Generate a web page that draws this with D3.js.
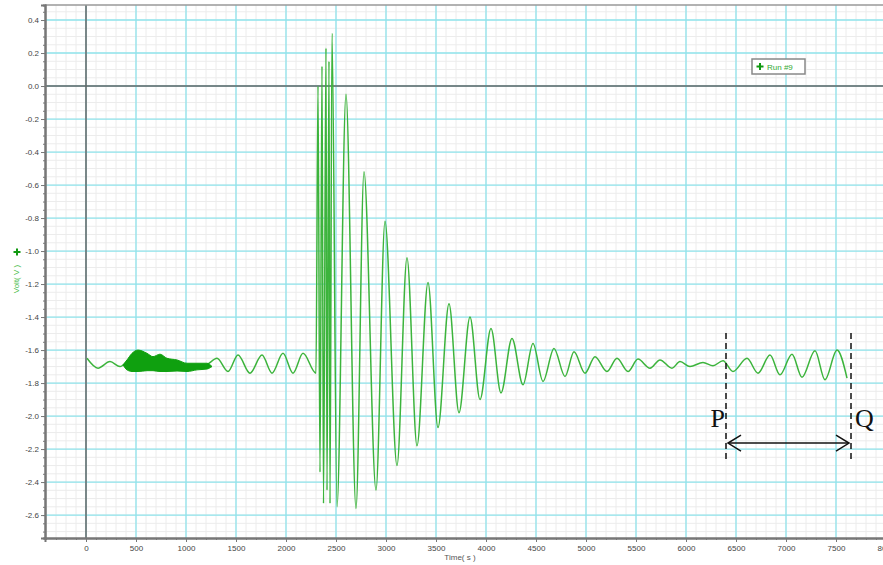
<!DOCTYPE html>
<html>
<head>
<meta charset="utf-8">
<script src="https://cdn.jsdelivr.net/npm/d3@7"></script>
<style>
  body { margin: 0; background: #fff; }
  svg { display: block; }
</style>
</head>
<body>
<script>
// signal extrema (time in s, volt in V)
const sigTime = [10, 120, 240, 340, 450, 700, 1000, 1200, 1310, 1420, 1520, 1640, 1760, 1860, 1970, 2070, 2170, 2300,
  2320, 2340, 2360, 2375, 2400, 2410, 2430, 2440, 2460, 2510,
  2600, 2700, 2780, 2900, 2990, 3110, 3210, 3310, 3420, 3520, 3630, 3730, 3840, 3940, 4050, 4150, 4260, 4370,
  4470, 4570, 4680, 4790, 4880, 4990, 5090, 5210, 5310, 5420, 5520, 5640, 5740, 5860, 5940, 6040, 6170, 6270,
  6370, 6470, 6610, 6720, 6840, 6940, 7060, 7160, 7290, 7390, 7510, 7610];
const sigVolt = [-1.65, -1.71, -1.67, -1.70, -1.66, -1.67, -1.70, -1.69, -1.65, -1.73, -1.63, -1.74, -1.63, -1.74, -1.62, -1.74, -1.62, -1.74,
  0.0, -2.34, 0.12, -2.53, 0.23, -2.45, 0.15, -2.53, 0.32, -2.55,
  -0.05, -2.56, -0.52, -2.45, -0.82, -2.30, -1.04, -2.18, -1.19, -2.07, -1.32, -1.98, -1.40, -1.90, -1.47, -1.86, -1.53, -1.81,
  -1.56, -1.79, -1.59, -1.76, -1.61, -1.74, -1.64, -1.73, -1.65, -1.73, -1.655, -1.71, -1.66, -1.71, -1.67, -1.70, -1.675, -1.695,
  -1.665, -1.73, -1.65, -1.74, -1.63, -1.75, -1.625, -1.765, -1.605, -1.78, -1.60, -1.77];

// noisy stretch near 500 s, drawn as an envelope
const bandTime = [370, 410, 460, 520, 610, 670, 740, 810, 910, 1010, 1110, 1210, 1260];
const bandHigh = [-1.69, -1.66, -1.62, -1.60, -1.62, -1.64, -1.625, -1.65, -1.66, -1.68, -1.68, -1.68, -1.70];
const bandLow  = [-1.69, -1.72, -1.73, -1.73, -1.725, -1.725, -1.73, -1.73, -1.727, -1.73, -1.72, -1.715, -1.70];

const xTicks = [0, 500, 1000, 1500, 2000, 2500, 3000, 3500, 4000, 4500, 5000, 5500, 6000, 6500, 7000, 7500, 8000];
const yTicks = [-2.6, -2.4, -2.2, -2.0, -1.8, -1.6, -1.4, -1.2, -1.0, -0.8, -0.6, -0.4, -0.2, 0.0, 0.2, 0.4];

const markTimes = [6400, 7650];
const markNames = ["P", "Q"];

const W = 883, H = 565;
const padL = 45, padT = 5, padB = 538;

const x = d3.scaleLinear().domain([-410, 8100]).range([padL, padL + 851]);
const y = d3.scaleLinear().domain([-2.739, 0.491]).range([padB, padT]);

const svg = d3.select("body").append("svg").attr("width", W).attr("height", H);
svg.append("rect").attr("width", W).attr("height", H).attr("fill", "#fff");

const plot = svg.append("g");

// fine grid
plot.append("g").selectAll("line")
  .data(d3.range(-400, 8100, 100))
  .join("line")
    .attr("x1", d => x(d)).attr("x2", d => x(d))
    .attr("y1", padT).attr("y2", padB)
    .attr("stroke", "#ececec").attr("stroke-width", 1);
plot.append("g").selectAll("line")
  .data(d3.range(-2.7, 0.5, 0.05))
  .join("line")
    .attr("x1", padL).attr("x2", W)
    .attr("y1", d => y(d)).attr("y2", d => y(d))
    .attr("stroke", "#ececec").attr("stroke-width", 1);

// main grid
plot.append("g").selectAll("line")
  .data(xTicks)
  .join("line")
    .attr("x1", d => x(d)).attr("x2", d => x(d))
    .attr("y1", padT).attr("y2", padB)
    .attr("stroke", "#8fe4ec").attr("stroke-width", 1.3);
plot.append("g").selectAll("line")
  .data(yTicks)
  .join("line")
    .attr("x1", padL).attr("x2", W)
    .attr("y1", d => y(d)).attr("y2", d => y(d))
    .attr("stroke", "#8fe4ec").attr("stroke-width", 1.3);

// zero lines
plot.append("line")
  .attr("x1", x(0)).attr("x2", x(0)).attr("y1", padT).attr("y2", padB)
  .attr("stroke", "#666").attr("stroke-width", 1.5);
plot.append("line")
  .attr("x1", padL).attr("x2", W).attr("y1", y(0)).attr("y2", y(0))
  .attr("stroke", "#666").attr("stroke-width", 1.5);

// top frame
plot.append("line")
  .attr("x1", padL).attr("x2", W).attr("y1", padT).attr("y2", padT)
  .attr("stroke", "#999").attr("stroke-width", 1.5);

// signal
const sig = sigTime.map((t, i) => ({ t, v: sigVolt[i] }));
const band = bandTime.map((t, i) => ({ t, hi: bandHigh[i], lo: bandLow[i] }));

plot.append("path")
  .datum(sig)
  .attr("d", d3.line().x(d => x(d.t)).y(d => y(d.v)).curve(d3.curveMonotoneX))
  .attr("fill", "none")
  .attr("stroke", "#3cb43c")
  .attr("stroke-width", 1.5);

plot.append("path")
  .datum(band)
  .attr("d", d3.area().x(d => x(d.t)).y0(d => y(d.lo)).y1(d => y(d.hi)).curve(d3.curveMonotoneX))
  .attr("fill", "#0fa00f")
  .attr("stroke", "#0fa00f")
  .attr("stroke-width", 1);

// axes
const fmt = d => d.toFixed(1);
svg.append("g").attr("transform", `translate(${padL},0)`)
  .call(d3.axisLeft(y).tickValues(yTicks).tickFormat(fmt).tickSize(4).tickPadding(2));
svg.append("g").attr("transform", `translate(${padL},0)`)
  .call(d3.axisLeft(y).tickValues(d3.range(-2.7, 0.5, 0.05)).tickFormat("").tickSize(2));
svg.append("g").attr("transform", `translate(0,${padB})`)
  .call(d3.axisBottom(x).tickValues(xTicks).tickFormat(d3.format("d")).tickSize(4).tickPadding(3));
svg.append("g").attr("transform", `translate(0,${padB})`)
  .call(d3.axisBottom(x).tickValues(d3.range(-400, 8100, 100)).tickFormat("").tickSize(2));

svg.selectAll(".domain").attr("stroke", "#777").attr("stroke-width", 2);
svg.selectAll(".tick line").attr("stroke", "#777");
svg.selectAll(".tick text")
  .attr("font-family", "Liberation Sans, Arial, sans-serif")
  .attr("font-size", 8)
  .attr("fill", "#444");

// axis titles
svg.append("text")
  .attr("x", 460).attr("y", 560)
  .attr("text-anchor", "middle")
  .attr("font-family", "Liberation Sans, Arial, sans-serif")
  .attr("font-size", 8).attr("fill", "#555")
  .text("Time( s )");

svg.append("text")
  .attr("transform", "translate(19,279) rotate(-90)")
  .attr("text-anchor", "middle")
  .attr("font-family", "Liberation Sans, Arial, sans-serif")
  .attr("font-size", 8).attr("fill", "#44bb44")
  .text("Volt( V )");

function plus(g, cx, cy, s) {
  g.append("rect").attr("x", cx - s).attr("y", cy - 1).attr("width", 2 * s).attr("height", 2).attr("fill", "#119911");
  g.append("rect").attr("x", cx - 1).attr("y", cy - s).attr("width", 2).attr("height", 2 * s).attr("fill", "#119911");
}
plus(svg, 17, 252, 3.5);

// legend
const lg = svg.append("g");
lg.append("rect")
  .attr("x", 752).attr("y", 59).attr("width", 53).attr("height", 15)
  .attr("fill", "#fff").attr("stroke", "#888").attr("stroke-width", 1.5);
plus(lg, 760, 66.5, 3.5);
lg.append("text")
  .attr("x", 767).attr("y", 69.5)
  .attr("font-family", "Liberation Sans, Arial, sans-serif")
  .attr("font-size", 8).attr("fill", "#33aa33")
  .text("Run #9");

// P / Q markers
const ann = svg.append("g");
ann.selectAll("line.mark")
  .data(markTimes)
  .join("line")
    .attr("class", "mark")
    .attr("x1", d => x(d)).attr("x2", d => x(d))
    .attr("y1", y(-1.497)).attr("y2", y(-2.267))
    .attr("stroke", "#111").attr("stroke-width", 1.5)
    .attr("stroke-dasharray", "6,4");

ann.selectAll("text.mark")
  .data(markTimes)
  .join("text")
    .attr("class", "mark")
    .attr("x", (d, i) => i === 0 ? x(d) - 1 : x(d) + 4)
    .attr("y", y(-2.067))
    .attr("text-anchor", (d, i) => i === 0 ? "end" : "start")
    .attr("font-family", "Liberation Serif, Times New Roman, serif")
    .attr("font-size", 26)
    .attr("fill", "#111")
    .text((d, i) => markNames[i]);

const ay = y(-2.164);
const ax1 = x(markTimes[0]) + 2, ax2 = x(markTimes[1]) - 2;
ann.append("line")
  .attr("x1", ax1).attr("x2", ax2).attr("y1", ay).attr("y2", ay)
  .attr("stroke", "#111").attr("stroke-width", 1.5);
ann.append("path")
  .attr("d", `M${ax1 + 13},${ay - 8}L${ax1},${ay}L${ax1 + 13},${ay + 8}M${ax2 - 13},${ay - 8}L${ax2},${ay}L${ax2 - 13},${ay + 8}`)
  .attr("fill", "none").attr("stroke", "#111").attr("stroke-width", 1.5);
</script>
</body>
</html>
